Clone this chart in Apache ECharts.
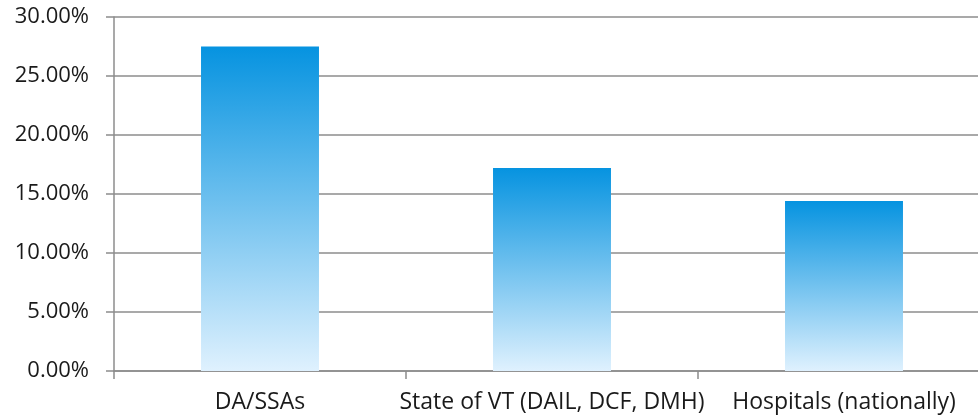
<!DOCTYPE html>
<html>
<head>
<meta charset="utf-8">
<script src="https://cdn.jsdelivr.net/npm/echarts@6/dist/echarts.min.js"></script>
<style>
  html, body { margin: 0; padding: 0; background: #fff; }
  #main { width: 978px; height: 418px; }
</style>
</head>
<body>
<div id="main"></div>
<script>
// 类别和数值
var categories = ['DA/SSAs', 'State of VT (DAIL, DCF, DMH)', 'Hospitals (nationally)'];
var rates = [27.5, 17.2, 14.4];
var yTicks = [0, 5, 10, 15, 20, 25, 30];

var myChart = echarts.init(document.getElementById('main'));

var option = {
    animation: false,
    grid: {
        left: 114,
        right: -12,   // 右侧超出画布一点
        top: 17,
        bottom: 47,
        outerBoundsMode: 'none'
    },
    xAxis: {
        type: 'category',
        data: categories,
        axisLine: { show: true, lineStyle: { color: '#8c8c8c', width: 1.5 } },
        axisTick: { show: true, length: 8, alignWithLabel: false, lineStyle: { color: '#8c8c8c', width: 1.5 } },
        axisLabel: {
            interval: 0,
            hideOverlap: false,
            margin: 20,
            color: '#1a1a1a',
            fontSize: 23,
            fontFamily: 'Open Sans'
        }
    },
    yAxis: {
        type: 'value',
        min: yTicks[0],
        max: yTicks[yTicks.length - 1],
        interval: 5,
        axisLine: { show: true, lineStyle: { color: '#8c8c8c', width: 1.5 } },
        axisTick: { show: true, length: 8, lineStyle: { color: '#8c8c8c', width: 1.5 } },
        splitLine: { show: true, lineStyle: { color: '#8c8c8c', width: 1.5 } },
        axisLabel: {
            margin: 25,
            color: '#1a1a1a',
            fontSize: 22,
            fontFamily: 'Open Sans',
            formatter: function (v) { return v.toFixed(2) + '%'; }
        }
    },
    series: [{
        type: 'bar',
        data: rates,
        barWidth: '40.4%',
        itemStyle: {
            color: new echarts.graphic.LinearGradient(0, 0, 0, 1, [
                { offset: 0, color: '#0693e0' },
                { offset: 1, color: '#dff1fe' }
            ])
        }
    }]
};

myChart.setOption(option);
</script>
</body>
</html>
